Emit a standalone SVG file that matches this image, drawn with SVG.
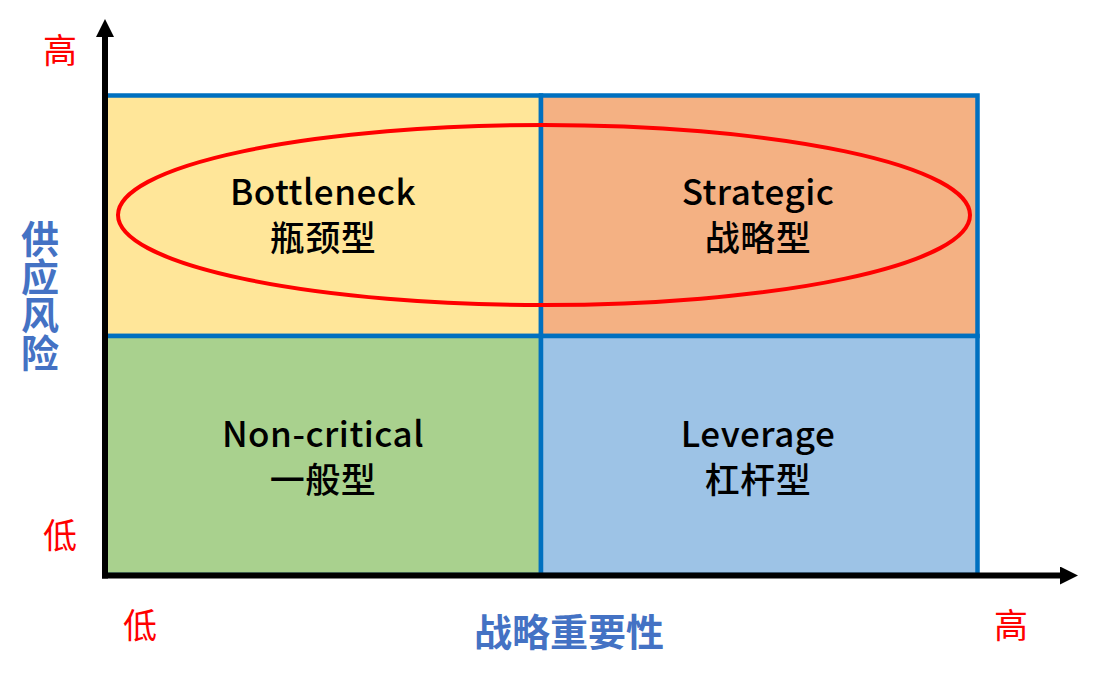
<svg xmlns="http://www.w3.org/2000/svg" width="1097" height="679" viewBox="0 0 1097 679">
<style>
.q{stroke:#0070C0;stroke-width:4.5}
.lbl{font-family:"Noto Sans CJK SC","Noto Sans",sans-serif;font-size:35px;font-weight:500;fill:#000;text-anchor:middle;letter-spacing:0.5px}
.ax{font-family:"Noto Sans CJK SC",sans-serif;font-size:34px;fill:#FF0000;text-anchor:middle}
.tt{font-family:"Noto Sans CJK SC",sans-serif;font-size:38px;font-weight:bold;fill:#4472C4;text-anchor:middle}
.vt{font-family:"Noto Sans CJK SC",sans-serif;font-size:38px;font-weight:bold;fill:#4472C4;writing-mode:vertical-rl;text-orientation:upright}
</style>
<defs>
<marker id="ah" viewBox="0 0 18 18" refX="0" refY="9" markerWidth="18" markerHeight="18" markerUnits="userSpaceOnUse" orient="auto">
<path d="M0,0 L18,9 L0,18 Z" fill="#000"/>
</marker>
</defs>
<rect width="1097" height="679" fill="#fff"/>
<g id="bottleneck">
<rect class="q" x="105" y="95.5" width="436" height="240.5" fill="#FFE699"/>
<text class="lbl" x="323" y="205">Bottleneck<tspan x="323" dy="46">瓶颈型</tspan></text>
</g>
<g id="strategic">
<rect class="q" x="541" y="95.5" width="436.5" height="240.5" fill="#F4B183"/>
<text class="lbl" x="758" y="205">Strategic<tspan x="758" dy="46">战略型</tspan></text>
</g>
<g id="noncritical">
<rect class="q" x="105" y="336" width="436" height="239" fill="#A9D18E"/>
<text class="lbl" x="323" y="447">Non-critical<tspan x="323" dy="46">一般型</tspan></text>
</g>
<g id="leverage">
<rect class="q" x="541" y="336" width="436.5" height="239" fill="#9DC3E6"/>
<text class="lbl" x="758" y="447">Leverage<tspan x="758" dy="46">杠杆型</tspan></text>
</g>
<g id="highlight">
<ellipse cx="544" cy="215" rx="426" ry="90" fill="none" stroke="#FF0000" stroke-width="4"/>
</g>
<g id="connectors">
<line x1="105" y1="578.5" x2="105" y2="37" stroke="#000" stroke-width="6" marker-end="url(#ah)"/>
<line x1="102" y1="575.5" x2="1060" y2="575.5" stroke="#000" stroke-width="6" marker-end="url(#ah)"/>
</g>
<g id="axis-labels">
<text class="ax" x="60" y="63">高</text>
<text class="ax" x="60" y="548">低</text>
<text class="ax" x="140" y="638">低</text>
<text class="ax" x="1011" y="638">高</text>
<text class="tt" x="569" y="646">战略重要性</text>
<text class="vt" x="40" y="220">供应风险</text>
</g>
</svg>
